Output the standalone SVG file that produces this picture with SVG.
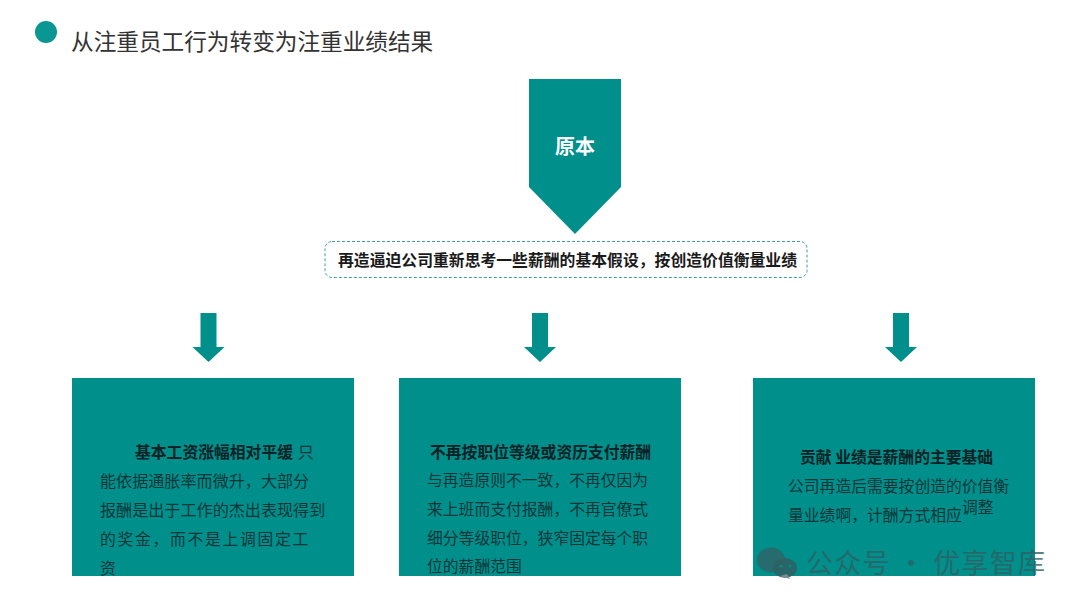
<svg xmlns="http://www.w3.org/2000/svg" width="1080" height="608" viewBox="0 0 1080 608">
<style>
text{font-family:"Noto Sans CJK SC","Microsoft YaHei",sans-serif}
.teal{fill:#008f8b}
.b{font-size:15.8px;font-weight:700;fill:#0a2225}
.t{font-size:15.8px;fill:#0b3639}
.l{font-size:16.1px}
</style>
<defs>
<path id="arr" class="teal" d="M-8 313H8V347H16L0 362L-16 347H-8Z"/>
</defs>
<rect width="1080" height="608" fill="#fff"/>
<g id="title">
<circle cx="46" cy="32" r="11" fill="#0a9692"/>
<text x="71" y="50" font-size="22.65" fill="#333">从注重员工行为转变为注重业绩结果</text>
</g>
<g id="node-origin">
<path class="teal" d="M529 79H621V187L575 234L529 187Z"/>
<text x="575" y="154" font-size="20" font-weight="700" fill="#fff" text-anchor="middle">原本</text>
</g>
<g id="node-premise">
<rect x="325" y="241.500" width="482" height="36" rx="7" fill="#fff" stroke="#3f9f9c" stroke-width="1" stroke-dasharray="3 2"/>
<text x="338" y="266" font-size="15.83" font-weight="700" fill="#1a1a1a">再造逼迫公司重新思考一些薪酬的基本假设，按创造价值衡量业绩</text>
</g>
<g id="connectors">
<use href="#arr" x="208.500"/>
<use href="#arr" x="540"/>
<use href="#arr" x="901"/>
</g>
<g id="node-left">
<rect class="teal" x="72" y="378" width="282" height="198"/>
<text class="b" x="135" y="458">基本工资涨幅相对平缓</text>
<text class="t" x="298" y="458">只</text>
<text class="t l" x="100" y="487">能依据通胀率而微升，大部分</text>
<text class="t l" x="100" y="516">报酬是出于工作的杰出表现得到</text>
<text class="t" x="100" y="545" letter-spacing="1.700">的奖金，而不是上调固定工</text>
<text class="t" x="100" y="574">资</text>
</g>
<g id="node-middle">
<rect class="teal" x="399" y="378" width="282" height="198"/>
<text class="b" x="430" y="458">不再按职位等级或资历支付薪酬</text>
<text class="t" x="427" y="486">与再造原则不一致，不再仅因为</text>
<text class="t" x="427" y="515">来上班而支付报酬，不再官僚式</text>
<text class="t" x="427" y="544">细分等级职位，狭窄固定每个职</text>
<text class="t" x="427" y="572">位的薪酬范围</text>
</g>
<g id="node-right">
<rect class="teal" x="753" y="378" width="282" height="198"/>
<text class="b" x="800" y="463">贡献 业绩是薪酬的主要基础</text>
<text class="t" x="788" y="492">公司再造后需要按创造的价值衡</text>
<text class="t" x="788" y="521">量业绩啊，计酬方式相应</text>
<text class="t" x="962" y="513">调整</text>
</g>
<g id="watermark">
<ellipse cx="771" cy="560" rx="14" ry="12.500" fill="#2f6266" fill-opacity=".8"/>
<ellipse cx="785" cy="568" rx="12" ry="10" fill="#2f5f63" fill-opacity=".85"/>
<path d="M780 576l10 3-3-5z" fill="#7f8c8d"/>
<circle cx="781" cy="566" r="1.500" fill="#008f8b"/>
<circle cx="790" cy="566" r="1.500" fill="#008f8b"/>
<text x="806" y="573" font-size="27" letter-spacing="1.200" fill="#2f5f63" fill-opacity=".8">公众号 · 优享智库</text>
</g>
</svg>
